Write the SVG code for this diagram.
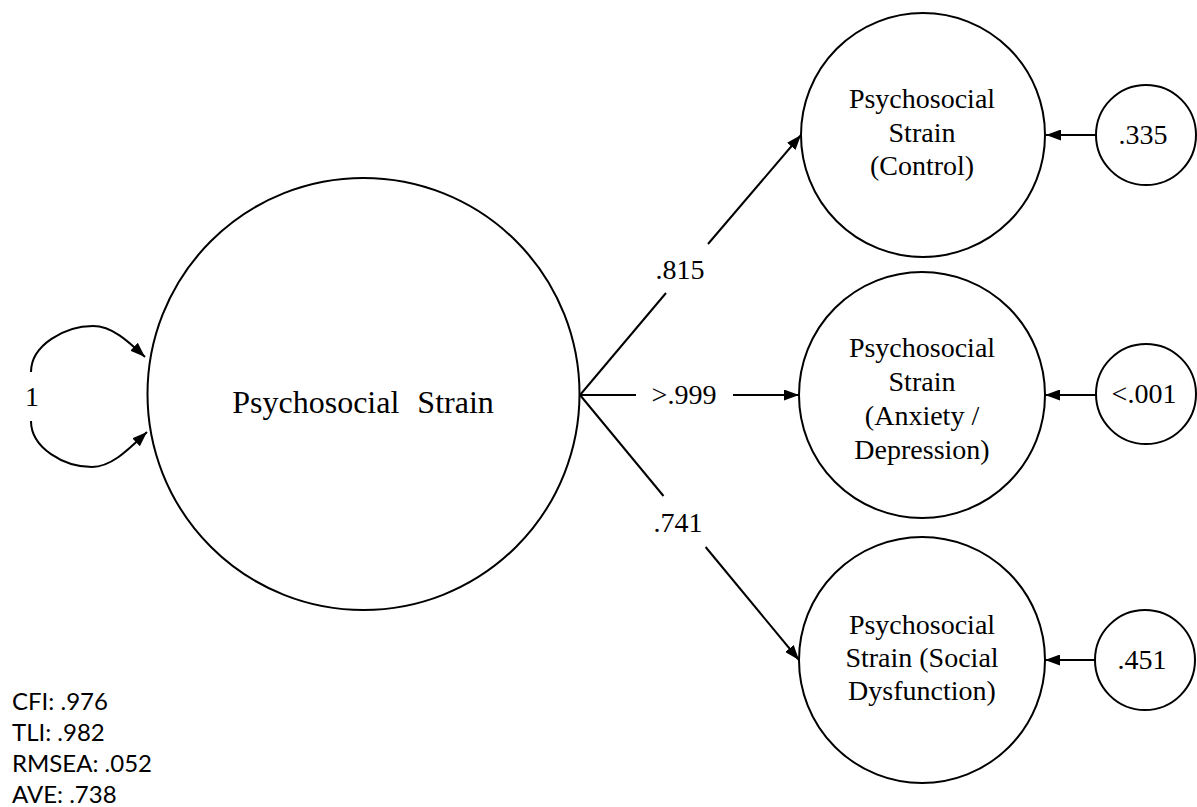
<svg xmlns="http://www.w3.org/2000/svg" width="1197" height="807" viewBox="0 0 1197 807">
  <style>
    .node { fill: #ffffff; stroke: #000000; stroke-width: 2; }
    .edge { fill: none; stroke: #000000; stroke-width: 2; }
    .lbl { font-family: "Liberation Serif", "Times New Roman", serif; font-size: 28px; fill: #000000; text-anchor: middle; }
    .big { font-size: 32px; word-spacing: 10px; }
    .fit { font-family: Lato, "Open Sans", sans-serif; font-size: 24px; fill: #000000; }
  </style>
  <defs>
    <marker id="arrow" markerUnits="userSpaceOnUse" markerWidth="15" markerHeight="11" refX="15" refY="5.5" orient="auto">
      <path d="M0,0 L15,5.5 L0,11 Z" fill="#000000"/>
    </marker>
  </defs>

  <rect width="1197" height="807" fill="#ffffff"/>

  <!-- connectors -->
  <g id="connectors">
    <!-- variance self-loop on the latent factor -->
    <path class="edge" d="M31,372 C31,345 65,326 93,326 C113,326 130,343 145,357" marker-end="url(#arrow)"/>
    <path class="edge" d="M31,421 C31,448 64,467 92,467 C112,467 130,448 147,432" marker-end="url(#arrow)"/>
    <!-- loadings -->
    <line class="edge" x1="580" y1="395" x2="666" y2="293"/>
    <line class="edge" x1="708" y1="244" x2="801" y2="135" marker-end="url(#arrow)"/>
    <line class="edge" x1="580" y1="395" x2="636" y2="395"/>
    <line class="edge" x1="733" y1="395" x2="799" y2="395" marker-end="url(#arrow)"/>
    <line class="edge" x1="580" y1="395" x2="663.5" y2="496"/>
    <line class="edge" x1="705.6" y1="547" x2="799" y2="660" marker-end="url(#arrow)"/>
    <!-- residuals -->
    <line class="edge" x1="1096" y1="135" x2="1046" y2="135" marker-end="url(#arrow)"/>
    <line class="edge" x1="1096" y1="395" x2="1045" y2="395" marker-end="url(#arrow)"/>
    <line class="edge" x1="1095" y1="660" x2="1045" y2="660" marker-end="url(#arrow)"/>
    <!-- edge labels -->
    <text class="lbl" x="32" y="406">1</text>
    <text class="lbl" x="680" y="279">.815</text>
    <text class="lbl" x="684" y="404">&gt;.999</text>
    <text class="lbl" x="678" y="532">.741</text>
  </g>

  <g id="factor">
    <circle class="node" cx="363.5" cy="394" r="216"/>
    <text class="lbl big" x="363" y="413">Psychosocial Strain</text>
  </g>

  <g id="control">
    <circle class="node" cx="923" cy="135" r="122"/>
    <text class="lbl" x="922" y="108">Psychosocial</text>
    <text class="lbl" x="922" y="142">Strain</text>
    <text class="lbl" x="922" y="175">(Control)</text>
  </g>

  <g id="anxiety">
    <circle class="node" cx="922" cy="395" r="123"/>
    <text class="lbl" x="922" y="357">Psychosocial</text>
    <text class="lbl" x="922" y="391">Strain</text>
    <text class="lbl" x="922" y="425">(Anxiety /</text>
    <text class="lbl" x="922" y="459">Depression)</text>
  </g>

  <g id="social">
    <circle class="node" cx="922" cy="660" r="123"/>
    <text class="lbl" x="922" y="634">Psychosocial</text>
    <text class="lbl" x="922" y="667">Strain (Social</text>
    <text class="lbl" x="922" y="700">Dysfunction)</text>
  </g>

  <g id="err-control">
    <circle class="node" cx="1146" cy="135" r="50"/>
    <text class="lbl" x="1143" y="144">.335</text>
  </g>

  <g id="err-anxiety">
    <circle class="node" cx="1146" cy="394" r="50"/>
    <text class="lbl" x="1144" y="403">&lt;.001</text>
  </g>

  <g id="err-social">
    <circle class="node" cx="1145" cy="660" r="50"/>
    <text class="lbl" x="1142" y="669">.451</text>
  </g>

  <g id="fit-indices">
    <text class="fit" x="12" y="710">CFI: .976</text>
    <text class="fit" x="12" y="741">TLI: .982</text>
    <text class="fit" x="12" y="772">RMSEA: .052</text>
    <text class="fit" x="12" y="803">AVE: .738</text>
  </g>
</svg>
